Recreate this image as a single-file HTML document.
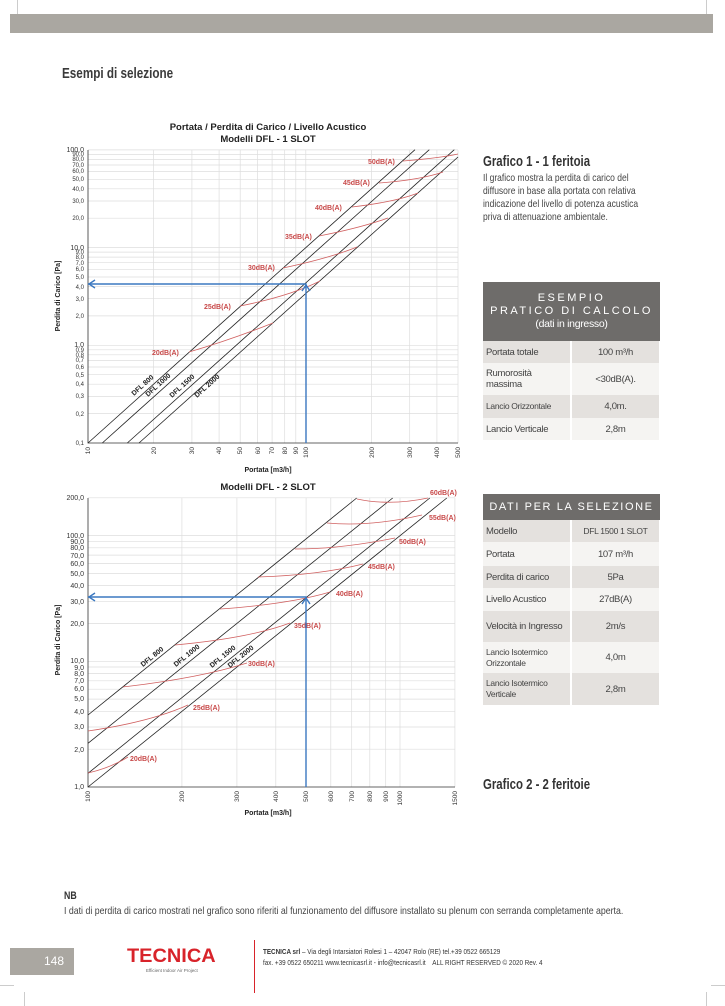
<!DOCTYPE html>
<html><head><meta charset="utf-8"><style>
body{margin:0;width:725px;height:1006px;background:#fff;position:relative;overflow:hidden;font-family:"Liberation Sans",sans-serif}
.a{position:absolute}
.n{transform-origin:0 0}
table{border-collapse:collapse;position:absolute;font-family:"Liberation Sans",sans-serif;font-size:9.5px;letter-spacing:-0.3px;color:#444;table-layout:fixed}
td{padding:0 3px;border-right:2px solid #fff;line-height:11px}
td.v{text-align:center}
tr.g td{background:#e4e1de}
tr.w td{background:#f5f4f2}
th{background:#6e6c6a;color:#fff;font-weight:normal;padding:0;letter-spacing:0}
</style></head><body>
<div class="a" style="left:10px;top:14px;width:703px;height:19px;background:#aaa7a1"></div>
<div class="a" style="left:17px;top:0;width:1px;height:14px;background:#ccc"></div>
<div class="a" style="left:706px;top:0;width:1px;height:14px;background:#ccc"></div>
<div class="a n" style="left:62px;top:65px;font-size:15px;font-weight:bold;color:#3a3a3a;transform:scaleX(0.78);white-space:nowrap">Esempi di selezione</div>

<svg class="a" style="left:0;top:0" width="480" height="830" font-family="Liberation Sans, sans-serif">
<g stroke="#ddd" stroke-width="0.7">
<path d="M88 413.6H458M88 396.4H458M88 384.2H458M88 374.7H458M88 367H458M88 360.4H458M88 354.8H458M88 349.8H458M88 345.3H458M88 315.9H458M88 298.7H458M88 286.5H458M88 277H458M88 269.3H458M88 262.7H458M88 257.1H458M88 252.1H458M88 247.6H458M88 218.2H458M88 201H458M88 188.8H458M88 179.3H458M88 171.6H458M88 165H458M88 159.4H458M88 154.4H458M88 149.9H458"/>
<path d="M153.6 150V443M191.9 150V443M219.1 150V443M240.2 150V443M257.5 150V443M272.1 150V443M284.7 150V443M295.8 150V443M305.8 150V443M371.4 150V443M409.7 150V443M436.9 150V443M458 150V443"/>
</g>
<path d="M88 150V443H458" stroke="#333" fill="none" stroke-width="0.8"/>
<g stroke="#222" stroke-width="0.8">
<line x1="88" y1="443" x2="415" y2="149.7"/><line x1="102.3" y1="443" x2="429.3" y2="149.7"/><line x1="127.3" y1="443" x2="454.3" y2="149.7"/><line x1="139" y1="443" x2="458" y2="157"/>
</g>
<g stroke="#d06060" stroke-width="0.8" fill="none">
<path d="M189 352Q230 340 273 323"/><path d="M240 306Q290 296 320 281"/><path d="M283 268Q330 258 357 247"/><path d="M319 236Q360 228 388 218"/><path d="M352 207Q395 202 418 193"/><path d="M379 183Q420 180 443 172"/><path d="M403 161Q440 158 458 154"/>
</g>
<g fill="#c84a4a" font-size="7" font-weight="bold">
<text x="152" y="355">20dB(A)</text><text x="204" y="309">25dB(A)</text><text x="248" y="270">30dB(A)</text><text x="285" y="239">35dB(A)</text><text x="315" y="210">40dB(A)</text><text x="343" y="185">45dB(A)</text><text x="368" y="164">50dB(A)</text>
</g>
<g font-size="7" font-weight="bold" fill="#222">
<text transform="translate(134,396) rotate(-42)">DFL 800</text><text transform="translate(148,397) rotate(-42)">DFL 1000</text><text transform="translate(172,398) rotate(-42)">DFL 1500</text><text transform="translate(197,398) rotate(-42)">DFL 2000</text>
</g>
<g stroke="#3b78c0" stroke-width="1.4" fill="none">
<path d="M88 284H306V443"/><path d="M95 280L89 284L95 288"/><path d="M302 291L306 285L310 291"/>
</g>
<g font-size="6" fill="#333" text-anchor="end">
<text x="84" y="445">0,1</text><text x="84" y="416">0,2</text><text x="84" y="398">0,3</text><text x="84" y="386">0,4</text><text x="84" y="377">0,5</text><text x="84" y="369">0,6</text><text x="84" y="362">0,7</text><text x="84" y="357">0,8</text><text x="84" y="352">0,9</text><text x="84" y="347" font-size="7">1,0</text>
<text x="84" y="318">2,0</text><text x="84" y="301">3,0</text><text x="84" y="289">4,0</text><text x="84" y="279">5,0</text><text x="84" y="271">6,0</text><text x="84" y="265">7,0</text><text x="84" y="259">8,0</text><text x="84" y="254">9,0</text><text x="84" y="250" font-size="7">10,0</text>
<text x="84" y="220">20,0</text><text x="84" y="203">30,0</text><text x="84" y="191">40,0</text><text x="84" y="181">50,0</text><text x="84" y="173">60,0</text><text x="84" y="167">70,0</text><text x="84" y="161">80,0</text><text x="84" y="156">90,0</text><text x="84" y="152" font-size="7">100,0</text>
</g>
<g font-size="6.5" fill="#333" text-anchor="end">
<text transform="translate(90,447) rotate(-90)">10</text><text transform="translate(156,447) rotate(-90)">20</text><text transform="translate(194,447) rotate(-90)">30</text><text transform="translate(221,447) rotate(-90)">40</text><text transform="translate(242,447) rotate(-90)">50</text><text transform="translate(260,447) rotate(-90)">60</text><text transform="translate(274,447) rotate(-90)">70</text><text transform="translate(287,447) rotate(-90)">80</text><text transform="translate(298,447) rotate(-90)">90</text><text transform="translate(308,447) rotate(-90)">100</text><text transform="translate(374,447) rotate(-90)">200</text><text transform="translate(412,447) rotate(-90)">300</text><text transform="translate(439,447) rotate(-90)">400</text><text transform="translate(460,447) rotate(-90)">500</text>
</g>
<g font-weight="bold" fill="#222" text-anchor="middle">
<text x="268" y="130" font-size="9.5">Portata / Perdita di Carico / Livello Acustico</text>
<text x="268" y="142" font-size="9.5">Modelli DFL - 1 SLOT</text>
<text x="268" y="472" font-size="7">Portata [m3/h]</text>
<text transform="translate(60,296) rotate(-90)" font-size="7">Perdita di Carico [Pa]</text>
<text x="268" y="490" font-size="9.5">Modelli DFL - 2 SLOT</text>
<text x="268" y="815" font-size="7">Portata [m3/h]</text>
<text transform="translate(60,640) rotate(-90)" font-size="7">Perdita di Carico [Pa]</text>
</g>

<g stroke="#ddd" stroke-width="0.7">
<path d="M88 749.2H455M88 727H455M88 711.3H455M88 699.1H455M88 689.2H455M88 680.8H455M88 673.5H455M88 667H455M88 661.3H455M88 623.5H455M88 601.3H455M88 585.6H455M88 573.4H455M88 563.5H455M88 555.1H455M88 547.8H455M88 541.3H455M88 535.6H455M88 497.8H455"/>
<path d="M181.9 498V787M236.9 498V787M275.8 498V787M306.1 498V787M330.8 498V787M351.7 498V787M369.8 498V787M385.7 498V787M400 498V787M454.9 498V787"/>
</g>
<path d="M88 498V787H455" stroke="#333" fill="none" stroke-width="0.8"/>
<g stroke="#222" stroke-width="0.8">
<line x1="88" y1="715" x2="356.7" y2="498"/><line x1="88" y1="743.3" x2="392.7" y2="498"/><line x1="88" y1="773.3" x2="429.8" y2="498"/><line x1="88" y1="787" x2="446.8" y2="498"/>
</g>
<g stroke="#d06060" stroke-width="0.8" fill="none">
<path d="M88 773Q110 768 128 757"/><path d="M88 731Q150 722 188 705"/><path d="M123 687Q200 678 247 663"/><path d="M175 645Q250 638 290 623"/><path d="M220 609Q290 604 330 592"/><path d="M258 577Q320 575 363 564"/><path d="M295 549Q340 549 395 538"/><path d="M327 523Q370 527 422 515"/><path d="M357 499Q390 506 428 498"/>
</g>
<g fill="#c84a4a" font-size="7" font-weight="bold">
<text x="130" y="761">20dB(A)</text><text x="193" y="710">25dB(A)</text><text x="248" y="666">30dB(A)</text><text x="294" y="628">35dB(A)</text><text x="336" y="596">40dB(A)</text><text x="368" y="569">45dB(A)</text><text x="399" y="544">50dB(A)</text><text x="429" y="520">55dB(A)</text><text x="430" y="495">60dB(A)</text>
</g>
<g font-size="7" font-weight="bold" fill="#222">
<text transform="translate(143,667) rotate(-39)">DFL 800</text><text transform="translate(176,667) rotate(-39)">DFL 1000</text><text transform="translate(212,668) rotate(-39)">DFL 1500</text><text transform="translate(230,668) rotate(-39)">DFL 2000</text>
</g>
<g stroke="#3b78c0" stroke-width="1.4" fill="none">
<path d="M88 597H306V787"/><path d="M95 593L89 597L95 601"/><path d="M302 604L306 598L310 604"/>
</g>
<g font-size="7" fill="#333" text-anchor="end">
<text x="84" y="789">1,0</text><text x="84" y="752">2,0</text><text x="84" y="729">3,0</text><text x="84" y="714">4,0</text><text x="84" y="701">5,0</text><text x="84" y="691">6,0</text><text x="84" y="683">7,0</text><text x="84" y="676">8,0</text><text x="84" y="670">9,0</text><text x="84" y="663">10,0</text>
<text x="84" y="626">20,0</text><text x="84" y="604">30,0</text><text x="84" y="588">40,0</text><text x="84" y="576">50,0</text><text x="84" y="566">60,0</text><text x="84" y="558">70,0</text><text x="84" y="550">80,0</text><text x="84" y="544">90,0</text><text x="84" y="538">100,0</text><text x="84" y="500">200,0</text>
</g>
<g font-size="6.5" fill="#333" text-anchor="end">
<text transform="translate(90,791) rotate(-90)">100</text><text transform="translate(184,791) rotate(-90)">200</text><text transform="translate(239,791) rotate(-90)">300</text><text transform="translate(278,791) rotate(-90)">400</text><text transform="translate(308,791) rotate(-90)">500</text><text transform="translate(333,791) rotate(-90)">600</text><text transform="translate(354,791) rotate(-90)">700</text><text transform="translate(372,791) rotate(-90)">800</text><text transform="translate(388,791) rotate(-90)">900</text><text transform="translate(402,791) rotate(-90)">1000</text><text transform="translate(457,791) rotate(-90)">1500</text>
</g>
</svg>

<div class="a n" style="left:483px;top:153px;font-size:15px;font-weight:bold;color:#333;transform:scaleX(0.76);white-space:nowrap">Grafico 1 - 1 feritoia</div>
<div class="a n" style="left:483px;top:172px;width:198px;font-size:10.5px;line-height:13px;color:#444;transform:scaleX(0.81)">Il grafico mostra la perdita di carico del diffusore in base alla portata con relativa indicazione del livello di potenza acustica priva di attenuazione ambientale.</div>

<table style="left:483px;top:282px;width:177px">
<col style="width:88px"><col style="width:89px">
<tr><th colspan="2" style="height:59px;line-height:13px"><span style="letter-spacing:2.5px;font-size:11px">ESEMPIO<br>PRATICO DI CALCOLO</span><br><span style="font-size:10.5px;letter-spacing:-0.3px">(dati in ingresso)</span></th></tr>
<tr class="g" style="height:22px"><td>Portata totale</td><td class="v">100 m³/h</td></tr>
<tr class="w" style="height:32px"><td>Rumorosità massima</td><td class="v">&lt;30dB(A).</td></tr>
<tr class="g" style="height:23px"><td style="font-size:8.5px">Lancio Orizzontale</td><td class="v">4,0m.</td></tr>
<tr class="w" style="height:22px"><td>Lancio Verticale</td><td class="v">2,8m</td></tr>
</table>

<table style="left:483px;top:494px;width:177px">
<col style="width:88px"><col style="width:89px">
<tr><th colspan="2" style="height:26px;letter-spacing:1.6px;font-size:11px;white-space:nowrap">DATI PER LA SELEZIONE</th></tr>
<tr class="g" style="height:22px"><td>Modello</td><td class="v" style="font-size:8.5px;white-space:nowrap">DFL 1500 1 SLOT</td></tr>
<tr class="w" style="height:24px"><td>Portata</td><td class="v">107 m³/h</td></tr>
<tr class="g" style="height:22px"><td>Perdita di carico</td><td class="v">5Pa</td></tr>
<tr class="w" style="height:23px"><td>Livello Acustico</td><td class="v">27dB(A)</td></tr>
<tr class="g" style="height:31px"><td>Velocità in Ingresso</td><td class="v">2m/s</td></tr>
<tr class="w" style="height:31px"><td style="font-size:8.5px">Lancio Isotermico Orizzontale</td><td class="v">4,0m</td></tr>
<tr class="g" style="height:32px"><td style="font-size:8.5px">Lancio Isotermico Verticale</td><td class="v">2,8m</td></tr>
</table>

<div class="a n" style="left:483px;top:776px;font-size:15px;font-weight:bold;color:#333;transform:scaleX(0.76);white-space:nowrap">Grafico 2 - 2 feritoie</div>

<div class="a n" style="left:64px;top:890px;font-size:11px;font-weight:bold;color:#333;transform:scaleX(0.8)">NB</div>
<div class="a n" style="left:64px;top:905px;font-size:10.5px;color:#444;white-space:nowrap;transform:scaleX(0.835)">I dati di perdita di carico mostrati nel grafico sono riferiti al funzionamento del diffusore installato su plenum con serranda completamente aperta.</div>

<div class="a" style="left:10px;top:948px;width:64px;height:27px;background:#aaa7a1;color:#fff;font-size:12px;line-height:27px;text-align:right;box-sizing:border-box;padding-right:10px">148</div>
<div class="a n" style="left:127px;top:946px;font-size:19px;font-weight:900;color:#d8232a;transform:scaleX(1.05)">TECNICA</div>
<div class="a" style="left:146px;top:968px;font-size:4.5px;color:#666">Efficient Indoor Air Project</div>
<div class="a" style="left:254px;top:940px;width:1px;height:53px;background:#d8232a"></div>
<div class="a n" style="left:263px;top:946px;font-size:7.5px;line-height:11px;color:#333;white-space:nowrap;transform:scaleX(0.84)"><b>TECNICA srl</b> – Via degli Intarsiatori Rolesi 1 – 42047 Rolo (RE) tel.+39 0522 665129<br>fax. +39 0522 650211 www.tecnicasrl.it - info@tecnicasrl.it &nbsp;&nbsp; ALL RIGHT RESERVED © 2020 Rev. 4</div>
<div class="a" style="left:0;top:985px;width:14px;height:1px;background:#ccc"></div>
<div class="a" style="left:711px;top:985px;width:14px;height:1px;background:#ccc"></div>
<div class="a" style="left:24px;top:992px;width:1px;height:14px;background:#ccc"></div>
<div class="a" style="left:706px;top:992px;width:1px;height:14px;background:#ccc"></div>
</body></html>
